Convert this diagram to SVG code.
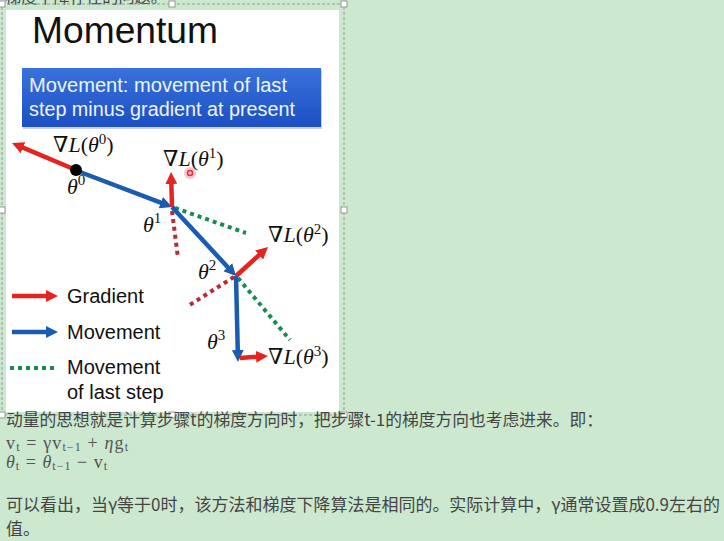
<svg xmlns="http://www.w3.org/2000/svg" width="724" height="541" viewBox="0 0 724 541">
<defs>
<style>
.zh{font-family:"Noto Sans CJK SC","Noto Sans",sans-serif;font-size:17px;fill:#454545}
.mth{font-family:"Liberation Serif","DejaVu Serif",serif;font-size:18px;fill:#555}
.sub{font-size:12px}
.lbl{font-family:"Liberation Serif","DejaVu Serif",serif;font-size:22px;fill:#111}
.it{font-style:italic}
.leg{font-family:"Liberation Sans","Open Sans",sans-serif;font-size:20px;fill:#111}
.red{stroke:#e52320;stroke-width:4.5;fill:none}
.blue{stroke:#1a5cb0;stroke-width:4.5;fill:none}
.gdot{stroke:#1b8a4f;stroke-width:4;stroke-dasharray:4 4;fill:none}
.rdot{stroke:#b92a33;stroke-width:4;stroke-dasharray:4 4;fill:none}
.hdl{fill:#fff;stroke:#999;stroke-width:1}
</style>
<marker id="ar" viewBox="0 0 12 12" refX="2" refY="6" markerWidth="12" markerHeight="12" markerUnits="userSpaceOnUse" orient="auto">
<path d="M0,0 L12,6 L0,12 z" fill="#e52320"/>
</marker>
<marker id="ab" viewBox="0 0 12 12" refX="2" refY="6" markerWidth="12" markerHeight="12" markerUnits="userSpaceOnUse" orient="auto">
<path d="M0,0 L12,6 L0,12 z" fill="#1a5cb0"/>
</marker>
<linearGradient id="bg" x1="0" y1="0" x2="0" y2="1">
<stop offset="0" stop-color="#3872dc"/>
<stop offset="1" stop-color="#1c4fc2"/>
</linearGradient>
</defs>
<rect x="0" y="0" width="724" height="541" fill="#cce8cf"/>
<text class="zh" x="5" y="3" textLength="162" lengthAdjust="spacingAndGlyphs">梯度下降存在的问题。</text>
<rect x="6" y="10" width="333" height="402" fill="#fff"/>
<g id="selection">
<rect x="2" y="4" width="342" height="411" fill="none" stroke="#999" stroke-width="1" stroke-dasharray="3 2"/>
<rect class="hdl" x="-1" y="1" width="6" height="6"/>
<rect class="hdl" x="169" y="1" width="6" height="6"/>
<rect class="hdl" x="341" y="1" width="6" height="6"/>
<rect class="hdl" x="-1" y="207" width="6" height="6"/>
<rect class="hdl" x="341" y="207" width="6" height="6"/>
<rect class="hdl" x="-1" y="412" width="6" height="6"/>
<rect class="hdl" x="169" y="412" width="6" height="6"/>
<rect class="hdl" x="341" y="412" width="6" height="6"/>
</g>
<g id="title">
<text x="32" y="43" font-family="Liberation Sans, sans-serif" font-size="36" fill="#111" textLength="186" lengthAdjust="spacingAndGlyphs">Momentum</text>
</g>
<g id="callout">
<rect x="23" y="70" width="299" height="59" fill="#9aa8c0" opacity="0.5"/>
<rect x="22" y="68" width="299" height="59" fill="url(#bg)"/>
<text font-family="Liberation Sans, sans-serif" font-size="20" fill="#eef4ff"><tspan x="29" y="92" textLength="258" lengthAdjust="spacingAndGlyphs">Movement: movement of last</tspan><tspan x="29" y="116" textLength="266" lengthAdjust="spacingAndGlyphs">step minus gradient at present</tspan></text>
</g>
<g id="connectors">
<line class="rdot" x1="172" y1="211" x2="178" y2="258"/>
<line class="gdot" x1="175" y1="208" x2="246" y2="233"/>
<line class="rdot" x1="234" y1="277" x2="188" y2="306"/>
<line class="gdot" x1="238" y1="278" x2="290" y2="340"/>
<line class="red" x1="76" y1="170" x2="21.2" y2="146.9" marker-end="url(#ar)"/>
<line class="blue" x1="80" y1="172" x2="162.7" y2="203.4" marker-end="url(#ab)"/>
<line class="red" x1="172" y1="207" x2="171.3" y2="182" marker-end="url(#ar)"/>
<line class="blue" x1="172" y1="207" x2="229.2" y2="268.7" marker-end="url(#ab)"/>
<line class="red" x1="236" y1="276" x2="260.6" y2="253.7" marker-end="url(#ar)"/>
<line class="blue" x1="236" y1="276" x2="237.8" y2="352" marker-end="url(#ab)"/>
<line class="red" x1="240" y1="358" x2="258" y2="356.7" marker-end="url(#ar)"/>
</g>
<g id="theta0">
<circle cx="76" cy="170" r="6" fill="#000"/>
<text class="lbl" x="53" y="152">∇<tspan class="it">L</tspan>(<tspan class="it">θ</tspan><tspan font-size="15" dy="-8">0</tspan><tspan dy="8">)</tspan></text>
<text class="lbl" x="67" y="194"><tspan class="it">θ</tspan><tspan font-size="15" dy="-9">0</tspan></text>
</g>
<g id="theta1">
<text class="lbl" x="163" y="166">∇<tspan class="it">L</tspan>(<tspan class="it">θ</tspan><tspan font-size="15" dy="-8">1</tspan><tspan dy="8">)</tspan></text>
<text class="lbl" x="143" y="232"><tspan class="it">θ</tspan><tspan font-size="15" dy="-9">1</tspan></text>
</g>
<g id="laser">
<circle cx="190" cy="173" r="6" fill="#f4a0a8" opacity="0.6"/>
<circle cx="190" cy="173" r="2.5" fill="none" stroke="#e0303c" stroke-width="1.5"/>
</g>
<g id="theta2">
<text class="lbl" x="268" y="242">∇<tspan class="it">L</tspan>(<tspan class="it">θ</tspan><tspan font-size="15" dy="-8">2</tspan><tspan dy="8">)</tspan></text>
<text class="lbl" x="198" y="279"><tspan class="it">θ</tspan><tspan font-size="15" dy="-9">2</tspan></text>
</g>
<g id="theta3">
<text class="lbl" x="268" y="364">∇<tspan class="it">L</tspan>(<tspan class="it">θ</tspan><tspan font-size="15" dy="-8">3</tspan><tspan dy="8">)</tspan></text>
<text class="lbl" x="207" y="349"><tspan class="it">θ</tspan><tspan font-size="15" dy="-9">3</tspan></text>
</g>
<g id="legend">
<line class="red" x1="12" y1="296" x2="48" y2="296" marker-end="url(#ar)"/>
<text class="leg" x="67" y="303">Gradient</text>
<line class="blue" x1="12" y1="332" x2="48" y2="332" marker-end="url(#ab)"/>
<text class="leg" x="67" y="339">Movement</text>
<line class="gdot" x1="10" y1="368" x2="58" y2="368"/>
<text class="leg" x="67" y="374">Movement</text>
<text class="leg" x="67" y="399">of last step</text>
</g>
<g id="notes">
<text class="zh" x="6" y="426" textLength="597" lengthAdjust="spacingAndGlyphs">动量的思想就是计算步骤t的梯度方向时，把步骤t-1的梯度方向也考虑进来。即：</text>
<text class="mth" x="6" y="449" textLength="122" lengthAdjust="spacing">v<tspan class="sub" dy="2">t</tspan><tspan dy="-2"> =  γv</tspan><tspan class="sub" dy="2">t−1</tspan><tspan dy="-2"> + </tspan><tspan class="it">η</tspan>g<tspan class="sub" dy="2">t</tspan></text>
<text class="mth" x="6" y="468" textLength="101" lengthAdjust="spacing"><tspan class="it">θ</tspan><tspan class="sub" dy="2">t</tspan><tspan dy="-2"> = </tspan><tspan class="it">θ</tspan><tspan class="sub" dy="2">t−1</tspan><tspan dy="-2"> − v</tspan><tspan class="sub" dy="2">t</tspan></text>
<text class="zh" x="6" y="511" textLength="714" lengthAdjust="spacingAndGlyphs">可以看出，当γ等于0时，该方法和梯度下降算法是相同的。实际计算中，γ通常设置成0.9左右的</text>
<text class="zh" x="6" y="535">值。</text>
</g>
</svg>
